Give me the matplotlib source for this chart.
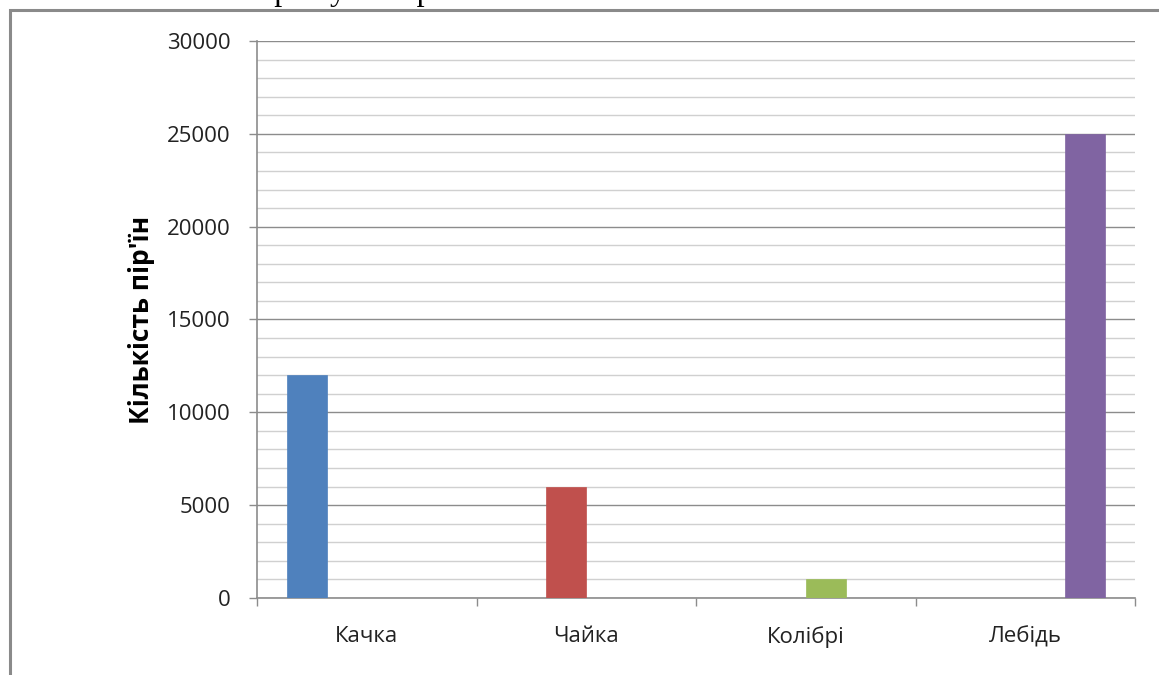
import matplotlib
matplotlib.use('Agg')
import matplotlib.pyplot as plt
from matplotlib.patches import Rectangle
from matplotlib.ticker import MultipleLocator, FixedLocator
import numpy as np

# chart data
categories = ['Качка', 'Чайка', 'Колібрі', 'Лебідь']
series_values = [
    [12000, 0, 0, 0],      # Качка
    [0, 6000, 0, 0],       # Чайка
    [0, 0, 1000, 0],       # Колібрі
    [0, 0, 0, 25000],      # Лебідь
]
colors = ['#4F81BD', '#C0504D', '#9BBB59', '#8064A2']
y_label = "Кількість пір'їн"
header_text = "Скільки всього пір'їн у чотирьох птахів?"

plt.rcParams['font.family'] = ['Open Sans', 'DejaVu Sans']

W, H = 1159, 675
fig = plt.figure(figsize=(W / 100, H / 100), dpi=100)
fig.patch.set_facecolor('white')

# cropped heading text from the document above the chart
fig.text(35 / W, 1 + 0.3 / H, header_text, family=['Liberation Serif', 'DejaVu Serif'],
         fontsize=23, va='baseline', ha='left', color='black')

# chart frame (runs off the right and bottom of the picture)
fig.add_artist(Rectangle((10 / W, -0.2), 1.5, (H - 10) / H + 0.2,
                         transform=fig.transFigure, fill=False,
                         edgecolor='#8a8a8a', linewidth=2.2))

ax = fig.add_axes([257 / W, 1 - 598 / H, (1135 - 257) / W, (598 - 41) / H])

n = len(series_values)
gap = 1.5
width = 1 / (n + gap)
x = np.arange(len(categories))
for i, vals in enumerate(series_values):
    offset = (i - (n - 1) / 2) * width
    ax.bar(x + offset, vals, width=width, color=colors[i], zorder=3,
           edgecolor=colors[i], linewidth=0.5)

ax.set_xlim(-0.5, len(categories) - 0.5)
ax.set_ylim(0, 30000)

ax.yaxis.set_major_locator(MultipleLocator(5000))
ax.yaxis.set_minor_locator(MultipleLocator(1000))
ax.grid(axis='y', which='major', color='#8c8c8c', linewidth=1.0, zorder=0)
ax.grid(axis='y', which='minor', color='#d0d0d0', linewidth=1.0, zorder=0)

ax.set_xticks(x)
ax.set_xticklabels(categories)
ax.xaxis.set_minor_locator(FixedLocator(np.arange(-0.5, len(categories), 1.0)))

for s in ['top', 'right']:
    ax.spines[s].set_visible(False)
for s in ['left', 'bottom']:
    ax.spines[s].set_color('#8c8c8c')
    ax.spines[s].set_linewidth(1.2)

ax.tick_params(axis='y', which='major', length=6, width=1, color='#8c8c8c',
               labelsize=16, pad=13, labelcolor='#222222')
ax.tick_params(axis='y', which='minor', length=0)
ax.tick_params(axis='x', which='major', length=0, labelsize=16, pad=20,
               labelcolor='#222222')
ax.tick_params(axis='x', which='minor', length=6, width=1, color='#8c8c8c')

ax.set_ylabel(y_label, fontsize=19, fontweight='bold', color='black')
ax.yaxis.set_label_coords((155 - 257) / (1135 - 257), 0.5)

fig.savefig('out.png', dpi=100, facecolor='white')
